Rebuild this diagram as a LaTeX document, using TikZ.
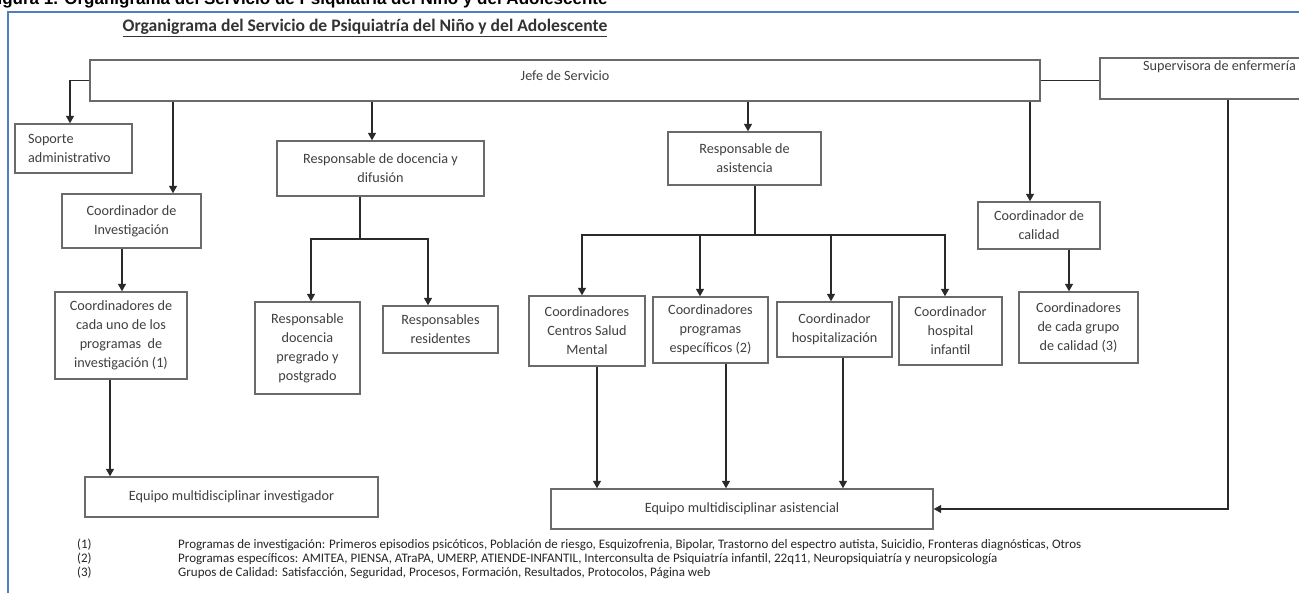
\documentclass[tikz,border=0pt]{standalone}
\usepackage{fontspec}
\setmainfont{Carlito}
\newfontfamily\capfont{Liberation Sans}
\usetikzlibrary{arrows.meta}
\definecolor{frameblue}{HTML}{4F7FBF}
\definecolor{boxline}{HTML}{6A6A6A}
\definecolor{txtc}{HTML}{404040}
\definecolor{linec}{HTML}{2A2A2A}
\begin{document}
\begin{tikzpicture}[x=1pt,y=-1pt,
  box/.style={draw=boxline, line width=1.4pt, fill=white, text=txtc, align=center, inner sep=2pt, font=\fontsize{14.2}{19}\selectfont},
  lbl/.style={text=txtc, inner sep=0pt, font=\fontsize{14.2}{19}\selectfont},
  conn/.style={draw=linec, line width=1.3pt},
  arr/.style={conn, -{Triangle[width=8pt,length=7.5pt]}},
  note/.style={text=black!85, font=\fontsize{13}{14}\selectfont, anchor=base west, inner sep=0pt},
]
\useasboundingbox (0,0) rectangle (1299,592);
\fill[white] (0,0) rectangle (1299,592);
% clipped caption above the frame
\begin{scope}
\clip (0,0) rectangle (1299,11);
\node[anchor=base west, inner sep=0pt, font=\capfont\bfseries\fontsize{17}{20}\selectfont] (cap) at (-13,4.5) {Figura 1. Organigrama del Servicio de Psiquiatría del Niño y del Adolescente};
\end{scope}
% frame
\draw[frameblue, line width=2pt] (8,600) -- (8,12) -- (1310,12);
% title
\node[font=\bfseries\fontsize{17.6}{20}\selectfont, text=black!80, inner sep=0pt] (title) at (365,28) {\underline{Organigrama del Servicio de Psiquiatría del Niño y del Adolescente}};

% boxes
\node[box, minimum width=950pt, minimum height=41pt] (jefe) at (565,80.5) {};
\node[lbl] (jefeT) at (565,76) {Jefe de Servicio};
\node[box, minimum width=212pt, minimum height=41pt] (sup) at (1206,78.5) {};
\node[lbl] (supT) at (1219.5,67) {Supervisora de enfermería};

\node[box, text width=91pt, inner xsep=13pt, align=left, minimum height=49pt] (sop) at (73.5,148.5) {Soporte\\administrativo};
\node[box, minimum width=139pt, minimum height=54pt] (cinv) at (131.5,221) {Coordinador de\\Investigación};
\node[box, minimum width=132pt, minimum height=87pt] (cprog) at (121,335.5) {Coordinadores de\\cada uno de los\\programas\ \ de\\investigación (1)};
\node[box, minimum width=207pt, minimum height=55pt] (rdoc) at (380.5,168.5) {Responsable de docencia y\\difusión};
\node[box, minimum width=105pt, minimum height=92pt] (rpre) at (307.5,348) {Responsable\\docencia\\pregrado y\\postgrado};
\node[box, minimum width=115pt, minimum height=47pt] (rres) at (440.5,329.5) {Responsables\\residentes};
\node[box, minimum width=153pt, minimum height=53pt] (rasi) at (744.5,158.5) {Responsable de\\asistencia};
\node[box, minimum width=116pt, minimum height=70pt] (ccsm) at (587,331) {Coordinadores\\Centros Salud\\Mental};
\node[box, minimum width=115pt, minimum height=66pt] (cpe) at (710.5,330) {Coordinadores\\programas\\específicos (2)};
\node[box, minimum width=115pt, minimum height=55pt] (chos) at (834.5,329.5) {Coordinador\\hospitalización};
\node[box, minimum width=103pt, minimum height=68pt] (chi) at (950.5,331) {Coordinador\\hospital\\infantil};
\node[box, minimum width=122pt, minimum height=47pt] (ccal) at (1039,225.5) {Coordinador de\\calidad};
\node[box, minimum width=119pt, minimum height=71pt] (cgrp) at (1078.5,327.5) {Coordinadores\\de cada grupo\\de calidad (3)};
\node[box, minimum width=293pt, minimum height=40pt] (einv) at (231.5,497) {Equipo multidisciplinar investigador};
\node[box, minimum width=382pt, minimum height=40pt] (easi) at (742,509) {Equipo multidisciplinar asistencial};

% connectors
\draw[conn] (jefe.east) -- (jefe.east -| sup.west);
\draw[arr] (jefe.west) -| (sop.north -| 70,0);
\draw[arr] (jefe.south -| 173,0) -- (cinv.north -| 173,0);
\draw[arr] (cinv.south -| 122,0) -- (cprog.north -| 122,0);
\draw[arr] (cprog.south -| 110,0) -- (einv.north -| 110,0);
\draw[arr] (jefe.south -| 372,0) -- (rdoc.north -| 372,0);
\coordinate (dj) at (360,239);
\draw[conn] (rdoc.south -| dj) -- (dj);
\draw[arr] (dj) -| (rpre.north -| 311,0);
\draw[arr] (dj) -| (rres.north -| 428,0);
\draw[arr] (jefe.south -| 748,0) -- (rasi.north -| 748,0);
\coordinate (aj) at (755,235);
\draw[conn] (rasi.south -| aj) -- (aj);
\draw[arr] (aj) -| (ccsm.north -| 582,0);
\draw[arr] (aj) -| (cpe.north -| 700,0);
\draw[arr] (aj) -| (chos.north -| 831,0);
\draw[arr] (aj) -| (chi.north -| 945,0);
\draw[arr] (jefe.south -| 1030,0) -- (ccal.north -| 1030,0);
\draw[arr] (ccal.south -| 1069,0) -- (cgrp.north -| 1069,0);
\draw[arr] (ccsm.south -| 597,0) -- (easi.north -| 597,0);
\draw[arr] (cpe.south -| 726,0) -- (easi.north -| 726,0);
\draw[arr] (chos.south -| 843,0) -- (easi.north -| 843,0);
\draw[arr] (sup.south -| 1228,0) |- (easi.east);

% footnotes
\node[note] (n1a) at (77,548) {(1)};
\node[note] (n1b) at (178,548) {Programas de investigación: Primeros episodios psicóticos, Población de riesgo, Esquizofrenia, Bipolar, Trastorno del espectro autista, Suicidio, Fronteras diagnósticas, Otros};
\node[note] (n2a) at (77,562) {(2)};
\node[note] (n2b) at (178,562) {Programas específicos: AMITEA, PIENSA, ATraPA, UMERP, ATIENDE-INFANTIL, Interconsulta de Psiquiatría infantil, 22q11, Neuropsiquiatría y neuropsicología};
\node[note] (n3a) at (77,576) {(3)};
\node[note] (n3b) at (178,576) {Grupos de Calidad: Satisfacción, Seguridad, Procesos, Formación, Resultados, Protocolos, Página web};
\end{tikzpicture}
\end{document}
